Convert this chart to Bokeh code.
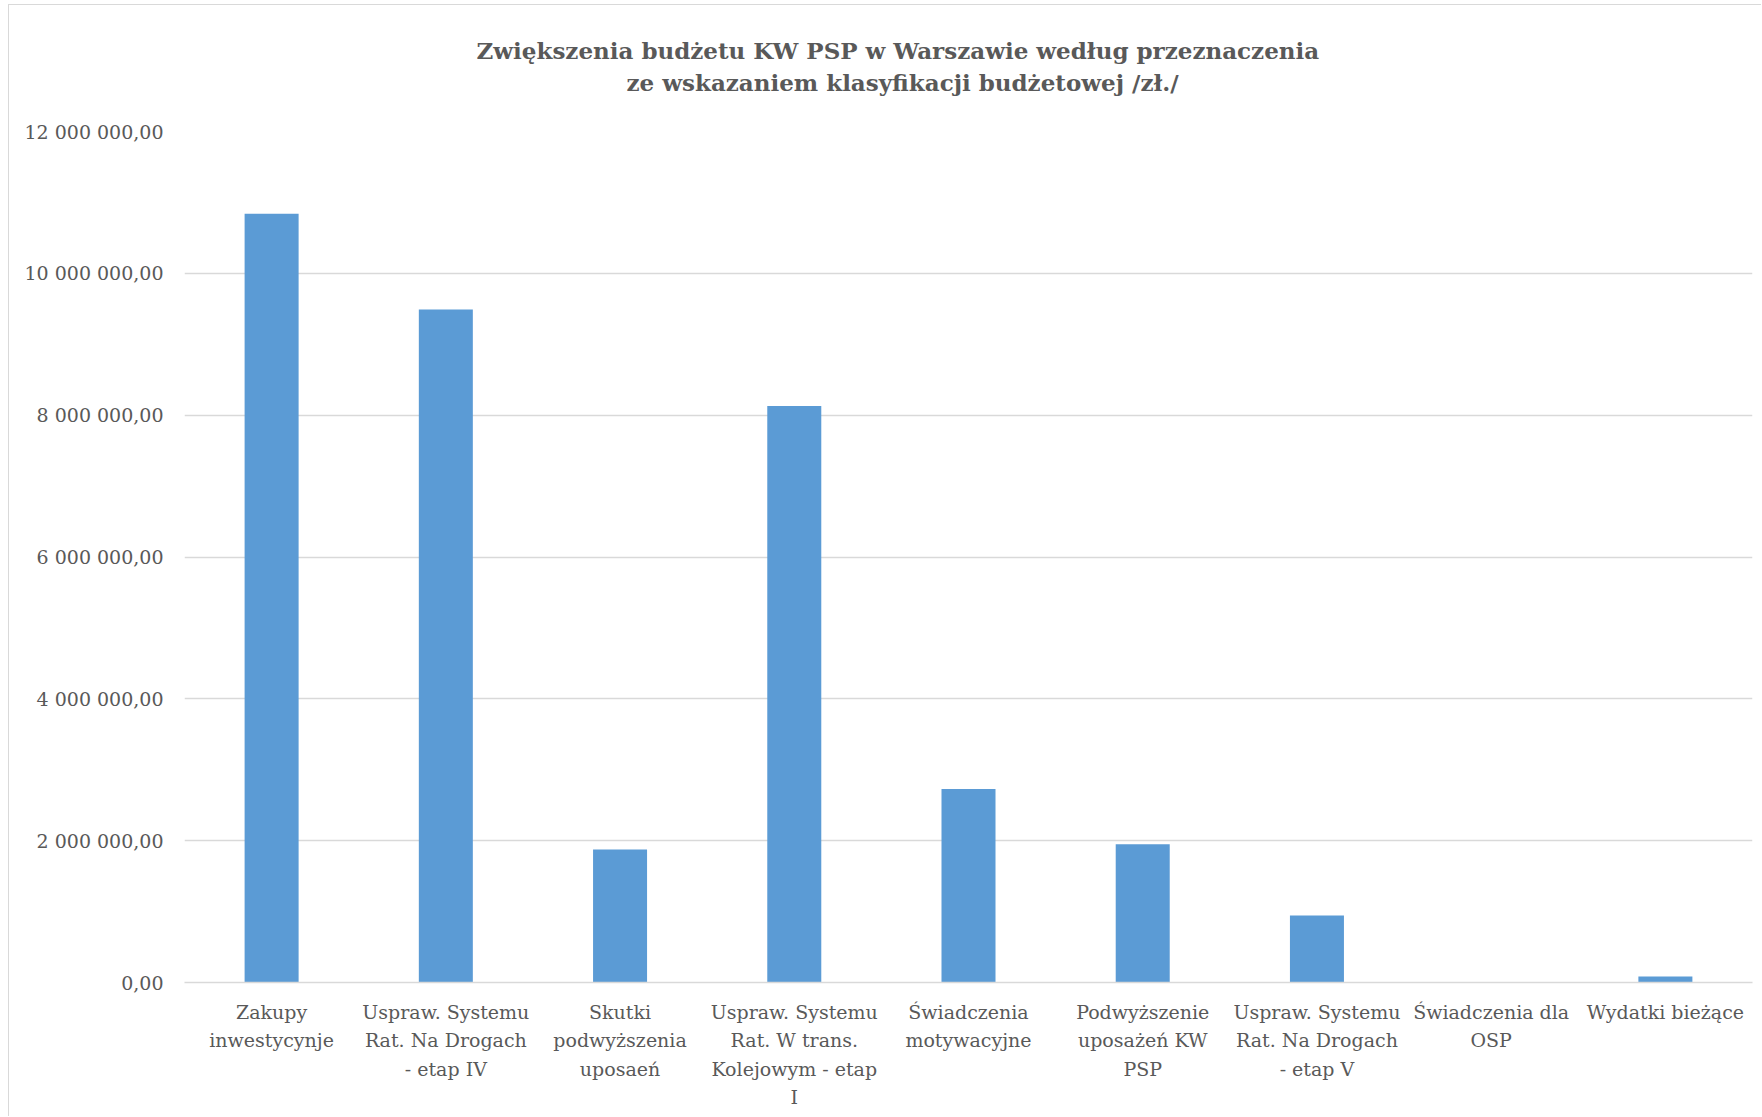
from bokeh.plotting import figure
from bokeh.models import FixedTicker, Title, ColumnDataSource
from bokeh.embed import file_html
from bokeh.resources import INLINE

categories = [
    "Zakupy\ninwestycynje",
    "Uspraw. Systemu\nRat. Na Drogach\n- etap IV",
    "Skutki\npodwyższenia\nuposaeń",
    "Uspraw. Systemu\nRat. W trans.\nKolejowym - etap\nI",
    "Świadczenia\nmotywacyjne",
    "Podwyższenie\nuposażeń KW\nPSP",
    "Uspraw. Systemu\nRat. Na Drogach\n- etap V",
    "Świadczenia dla\nOSP",
    "Wydatki bieżące",
]
values = [10840000, 9490000, 1875000, 8130000, 2730000, 1950000, 944000, 0, 85000]

y_ticks = [0, 2000000, 4000000, 6000000, 8000000, 10000000, 12000000]
y_tick_labels = ["0,00", "2 000 000,00", "4 000 000,00", "6 000 000,00",
                 "8 000 000,00", "10 000 000,00", "12 000 000,00"]

title_line1 = "Zwiększenia budżetu KW PSP w Warszawie według przeznaczenia"
title_line2 = "ze wskazaniem klasyfikacji budżetowej /zł./"

FONT = "DejaVu Serif"
GRAY = "#595959"

src = ColumnDataSource(dict(cat=categories, val=values))

p = figure(x_range=categories, y_range=(0, 12000000),
           width=1753, height=1112, output_backend="svg", toolbar_location=None,
           min_border_left=175, min_border_right=10, min_border_top=126, min_border_bottom=135)
p.styles = {"border-left": "1px solid #d9d9d9", "border-top": "1px solid #d9d9d9",
            "margin-left": "8px", "margin-top": "4px"}

p.vbar(x="cat", top="val", width=0.31, source=src, fill_color="#5B9BD5", line_color=None)

spacer = Title(text=" ", text_font_size="1px", standoff=31)
t2 = Title(text=title_line2, align="left", offset=442, standoff=3,
           text_font=FONT, text_font_size="23px", text_font_style="bold", text_color=GRAY)
t1 = Title(text=title_line1, align="left", offset=292, standoff=3,
           text_font=FONT, text_font_size="23px", text_font_style="bold", text_color=GRAY)
p.add_layout(spacer, "above")
p.add_layout(t2, "above")
p.add_layout(t1, "above")

p.outline_line_color = None
p.xgrid.grid_line_color = None
p.ygrid.grid_line_color = "#d9d9d9"
p.ygrid.grid_line_width = 1.3

p.yaxis.ticker = FixedTicker(ticks=y_ticks)
p.yaxis.major_label_overrides = {t: l for t, l in zip(y_ticks, y_tick_labels)}
p.yaxis.axis_line_color = None
p.yaxis.major_tick_line_color = None
p.yaxis.minor_tick_line_color = None
p.yaxis.major_label_standoff = 15
p.yaxis.major_label_text_font = FONT
p.yaxis.major_label_text_font_size = "19px"
p.yaxis.major_label_text_color = GRAY

p.xaxis.axis_line_color = "#d9d9d9"
p.xaxis.axis_line_width = 1.5
p.xaxis.major_tick_line_color = None
p.xaxis.minor_tick_line_color = None
p.xaxis.major_label_standoff = 12
p.xaxis.major_label_text_font = FONT
p.xaxis.major_label_text_font_size = "19px"
p.xaxis.major_label_text_color = GRAY
p.xaxis.major_label_text_line_height = 1.3

open("out.html", "w").write(file_html(p, INLINE))
